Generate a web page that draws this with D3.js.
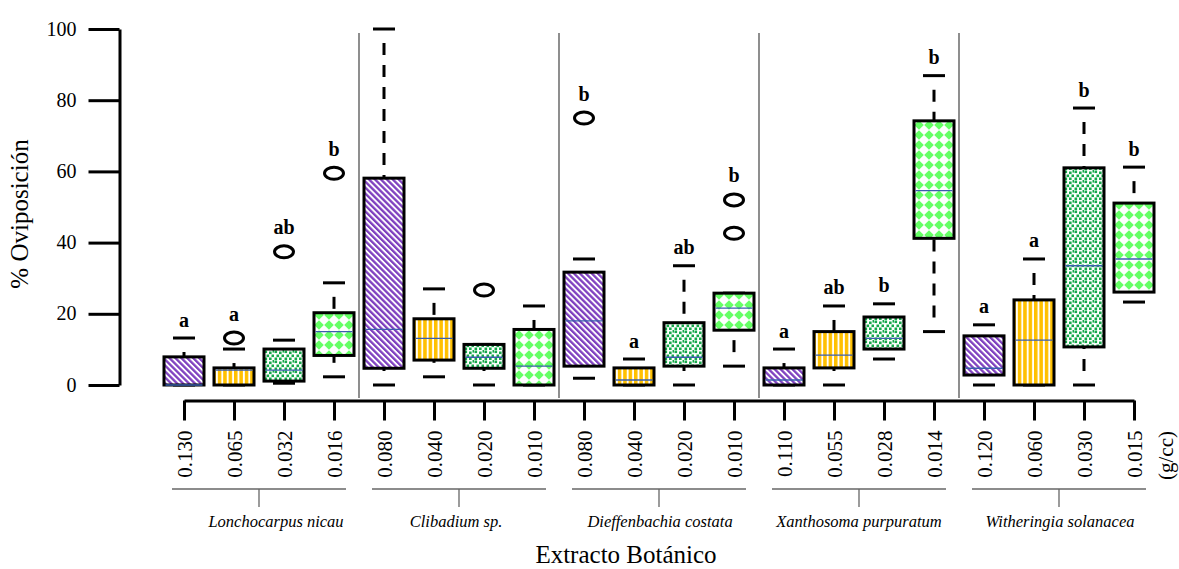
<!DOCTYPE html>
<html>
<head>
<meta charset="utf-8">
<script src="https://cdn.jsdelivr.net/npm/d3@7"></script>
<style>
    body { margin: 0; background: #fff; }
</style>
</head>
<body>
<div id="chart"></div>
<script>
// Extracts (groups of 4 concentrations each)
const extracts = ["Lonchocarpus nicau", "Clibadium sp.", "Dieffenbachia costata", "Xanthosoma purpuratum", "Witheringia solanacea"];
const doses = ["0.130", "0.065", "0.032", "0.016",
               "0.080", "0.040", "0.020", "0.010",
               "0.080", "0.040", "0.020", "0.010",
               "0.110", "0.055", "0.028", "0.014",
               "0.120", "0.060", "0.030", "0.015"];

// box stats (% oviposition)
const lowWhisker    = [0, 0, 0.5, 2.3,   0, 2.3, 0, 0,      1.9, 0, 0, 5.3,      0, 0, 7.3, 15,       0, 0, 0, 23.3];
const lowerQuartile = [0, 0, 1.1, 8.3,   4.7, 7.0, 4.7, 0,  5.3, 0, 5.3, 15.4,   0, 4.8, 10.1, 41.2,  2.8, 0, 10.7, 26.1];
const medians       = [0, 4.2, 4.2, 15,  15.6, 13.1, 7.8, 5.3, 18.0, 1.4, 7.8, 21.6, 1.4, 8.4, 13.1, 54.6, 4.7, 12.6, 33.5, 35.4];
const upperQuartile = [7.9, 4.8, 10.1, 20.3, 58.1, 18.6, 11.4, 15.6, 31.7, 4.8, 17.5, 25.8, 4.8, 15, 19.1, 74.2, 13.8, 23.9, 61, 51.1];
const highWhisker   = [13.2, 10.1, 12.6, 28.7, 100, 27, 11.4, 22.2, 35.4, 7.3, 33.5, 25.8, 10.1, 22.2, 22.8, 86.9, 16.9, 35.4, 77.8, 61.2];
const outliers = [[], [13.2], [37.4], [59.5],
                  [], [], [26.7], [],
                  [75], [], [], [42.6, 52],
                  [], [], [], [],
                  [], [], [], []];
const letters = ["a", "a", "ab", "b",
                 "", "", "", "",
                 "b", "a", "ab", "b",
                 "a", "ab", "b", "b",
                 "a", "a", "b", "b"];
const yTicks = [0, 20, 40, 60, 80, 100];

// layout
const width = 1179, height = 569;
const boxWidth = 40, capWidth = 22;
const labelNudge = [17, -3, 1, 0, 1];
const serif = '"Liberation Serif"';

const svg = d3.select("#chart").append("svg")
    .attr("width", width)
    .attr("height", height);

svg.append("rect").attr("width", width).attr("height", height).attr("fill", "#fff");

const x = d3.scaleLinear().domain([0, doses.length - 1]).range([184, 1134]);
const y = d3.scaleLinear().domain([0, 100]).range([385, 29]);

// fill patterns
const defs = svg.append("defs");

const hatch = defs.append("pattern").attr("id", "pat0")
    .attr("patternUnits", "userSpaceOnUse")
    .attr("width", 4.2).attr("height", 4.2)
    .attr("patternTransform", "rotate(-45)");
hatch.append("rect").attr("width", 4.2).attr("height", 4.2).attr("fill", "#fff");
hatch.append("rect").attr("width", 2.3).attr("height", 4.2).attr("fill", "#7e3fbf");

const stripes = defs.append("pattern").attr("id", "pat1")
    .attr("patternUnits", "userSpaceOnUse")
    .attr("width", 5.4).attr("height", 10);
stripes.append("rect").attr("width", 5.4).attr("height", 10).attr("fill", "#fff");
stripes.append("rect").attr("width", 3.5).attr("height", 10).attr("fill", "#ffc000");

const dots = defs.append("pattern").attr("id", "pat2")
    .attr("patternUnits", "userSpaceOnUse")
    .attr("width", 10).attr("height", 10);
dots.append("rect").attr("width", 10).attr("height", 10).attr("fill", "#fff");
[[0.5, 0.5], [5, 1.5], [2.5, 4.5], [7.5, 4.5], [0.5, 7.5], [5, 7.5], [8.5, 0]].forEach(p => {
    dots.append("rect").attr("x", p[0]).attr("y", p[1])
        .attr("width", 2.6).attr("height", 2.6).attr("fill", "#16a84a");
});

const diamonds = defs.append("pattern").attr("id", "pat3")
    .attr("patternUnits", "userSpaceOnUse")
    .attr("width", 10).attr("height", 10);
diamonds.append("rect").attr("width", 10).attr("height", 10).attr("fill", "#fff");
diamonds.append("polygon").attr("points", "5,0.2 9.8,5 5,9.8 0.2,5").attr("fill", "#66ff66");

// small helper so every label gets the serif face
function serifText(sel, size) {
    return sel.style("font-family", serif).style("font-size", size + "px").attr("fill", "#000");
}

// y axis
const yAxis = d3.axisLeft(y).tickValues(yTicks).tickSize(31).tickSizeOuter(0).tickPadding(12);
const yAxisGroup = svg.append("g")
    .attr("class", "y-axis")
    .attr("transform", "translate(119.5,0)")
    .call(yAxis)
    .attr("font-family", null);
yAxisGroup.selectAll("path, line").attr("stroke", "#000").attr("stroke-width", 3);
serifText(yAxisGroup.selectAll("text"), 20).attr("dy", "0.3em");

serifText(svg.append("text"), 25)
    .attr("transform", "translate(28,214) rotate(-90)")
    .attr("text-anchor", "middle")
    .text("% Oviposición");

// x axis
const xAxis = d3.axisBottom(x)
    .tickValues(d3.range(doses.length))
    .tickFormat(i => doses[i])
    .tickSize(20)
    .tickSizeOuter(0);
const xAxisGroup = svg.append("g")
    .attr("class", "x-axis")
    .attr("transform", "translate(0,400.5)")
    .call(xAxis)
    .attr("font-family", null);
xAxisGroup.selectAll("path, line").attr("stroke", "#000").attr("stroke-width", 3);
serifText(xAxisGroup.selectAll("text"), 21)
    .attr("transform", "rotate(-90)")
    .attr("text-anchor", "end")
    .attr("x", -30)
    .attr("y", 7)
    .attr("dy", 0);

serifText(svg.append("text"), 21)
    .attr("transform", "translate(1173,431) rotate(-90)")
    .attr("text-anchor", "end")
    .text("(g/cc)");

// group separators
svg.selectAll(".separator")
    .data(d3.range(1, extracts.length))
    .enter().append("line")
    .attr("class", "separator")
    .attr("x1", g => x(g * 4 - 0.5)).attr("x2", g => x(g * 4 - 0.5))
    .attr("y1", 33).attr("y2", 398)
    .attr("stroke", "#444").attr("stroke-width", 1.2);

// group brackets and names
const bracket = svg.selectAll(".bracket")
    .data(extracts)
    .enter().append("g")
    .attr("class", "bracket")
    .attr("transform", (d, g) => `translate(${x(g * 4 + 1.5)},0)`);
bracket.append("line")
    .attr("x1", -87).attr("x2", 87).attr("y1", 489).attr("y2", 489)
    .attr("stroke", "#666").attr("stroke-width", 1.3);
bracket.append("line")
    .attr("x1", 0).attr("x2", 0).attr("y1", 489).attr("y2", 507)
    .attr("stroke", "#666").attr("stroke-width", 1.3);
serifText(bracket.append("text"), 16.5)
    .attr("x", (d, g) => labelNudge[g])
    .attr("y", 527)
    .attr("text-anchor", "middle")
    .style("font-style", "italic")
    .text(d => d);

serifText(svg.append("text"), 25)
    .attr("x", 626).attr("y", 563)
    .attr("text-anchor", "middle")
    .text("Extracto Botánico");

// boxes
const boxes = svg.selectAll(".box")
    .data(doses.map((d, i) => i))
    .enter().append("g")
    .attr("class", "box")
    .attr("transform", i => `translate(${x(i)},0)`);

// dashed whiskers, drawn from the cap towards the box
boxes.append("line")
    .attr("x1", 0).attr("x2", 0)
    .attr("y1", i => y(highWhisker[i]) + 4)
    .attr("y2", i => y(upperQuartile[i]))
    .attr("stroke", "#000").attr("stroke-width", 3)
    .attr("stroke-dasharray", "12,10").attr("stroke-dashoffset", 12)
    .style("display", i => y(upperQuartile[i]) - y(highWhisker[i]) > 4 ? null : "none");
boxes.append("line")
    .attr("x1", 0).attr("x2", 0)
    .attr("y1", i => y(lowWhisker[i]) - 4)
    .attr("y2", i => y(lowerQuartile[i]))
    .attr("stroke", "#000").attr("stroke-width", 3)
    .attr("stroke-dasharray", "12,10").attr("stroke-dashoffset", 12)
    .style("display", i => y(lowWhisker[i]) - y(lowerQuartile[i]) > 4 ? null : "none");

// caps
boxes.append("line")
    .attr("x1", -capWidth / 2).attr("x2", capWidth / 2)
    .attr("y1", i => y(highWhisker[i])).attr("y2", i => y(highWhisker[i]))
    .attr("stroke", "#000").attr("stroke-width", 3);
boxes.append("line")
    .attr("x1", -capWidth / 2).attr("x2", capWidth / 2)
    .attr("y1", i => y(lowWhisker[i])).attr("y2", i => y(lowWhisker[i]))
    .attr("stroke", "#000").attr("stroke-width", 3);

boxes.append("rect")
    .attr("x", -boxWidth / 2)
    .attr("width", boxWidth)
    .attr("y", i => y(upperQuartile[i]))
    .attr("height", i => y(lowerQuartile[i]) - y(upperQuartile[i]))
    .attr("fill", i => `url(#pat${i % 4})`)
    .attr("stroke", "#000").attr("stroke-width", 3);

boxes.append("line")
    .attr("x1", -boxWidth / 2 + 1.5).attr("x2", boxWidth / 2 - 1.5)
    .attr("y1", i => y(medians[i])).attr("y2", i => y(medians[i]))
    .attr("stroke", "#3a5fad").attr("stroke-width", 1.3);

// outliers
boxes.selectAll(".outlier")
    .data(i => outliers[i])
    .enter().append("ellipse")
    .attr("class", "outlier")
    .attr("cx", 0)
    .attr("cy", v => y(v))
    .attr("rx", 9.5).attr("ry", 6)
    .attr("fill", "none")
    .attr("stroke", "#000").attr("stroke-width", 3);

// significance letters above the highest mark
serifText(boxes.append("text"), 20)
    .attr("y", i => {
        let top = y(highWhisker[i]) - 1.5;
        outliers[i].forEach(v => { top = Math.min(top, y(v) - 7.5); });
        return top - 10;
    })
    .attr("text-anchor", "middle")
    .style("font-weight", "bold")
    .text(i => letters[i]);
</script>
</body>
</html>
